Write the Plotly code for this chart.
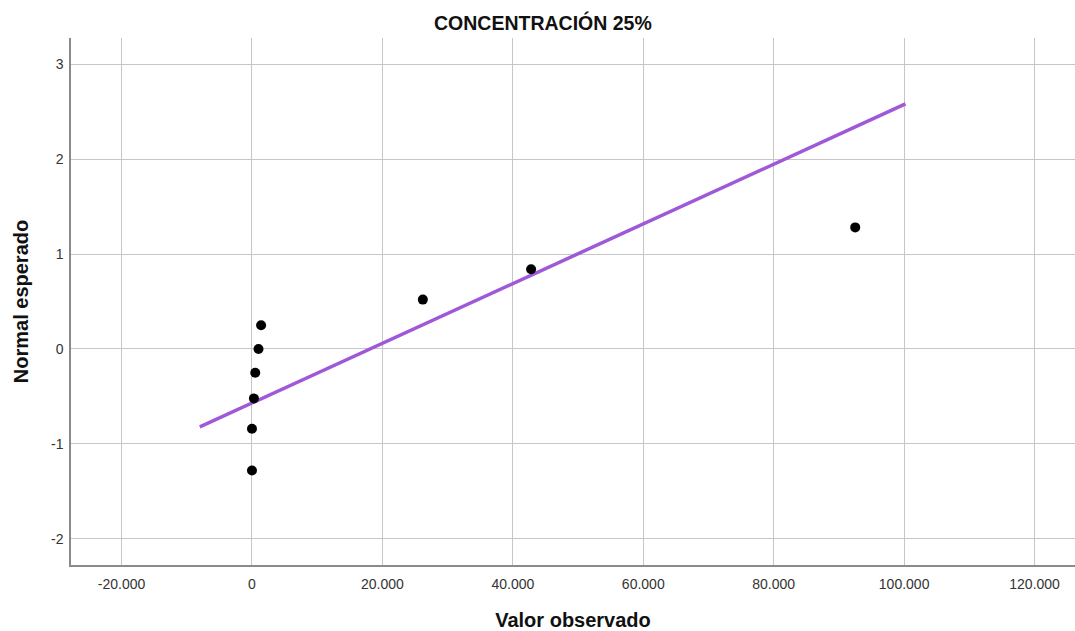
import plotly.graph_objects as go

# Observed values and their expected normal scores
observed = [0, 0, 300, 500, 1000, 1400, 26200, 42800, 92500]
expected = [-1.28, -0.84, -0.52, -0.25, 0.0, 0.25, 0.52, 0.84, 1.28]

# Reference line endpoints
line_x = [-8000, 100200]
line_y = [-0.82, 2.58]

x_ticks = [-20000, 0, 20000, 40000, 60000, 80000, 100000, 120000]
x_tick_text = ["-20.000", "0", "20.000", "40.000", "60.000", "80.000", "100.000", "120.000"]
y_ticks = [-2, -1, 0, 1, 2, 3]
y_tick_text = ["-2", "-1", "0", "1", "2", "3"]

fig = go.Figure()
fig.add_trace(go.Scatter(
    x=line_x, y=line_y, mode="lines",
    line=dict(color="#9E58D8", width=3.5),
    hoverinfo="skip", showlegend=False,
))
fig.add_trace(go.Scatter(
    x=observed, y=expected, mode="markers",
    marker=dict(color="black", size=10),
    showlegend=False,
))

font = "Liberation Sans, Arial, sans-serif"
fig.update_layout(
    width=1075, height=631,
    margin=dict(l=71, r=0, t=38, b=66),
    paper_bgcolor="white", plot_bgcolor="white",
    font=dict(family=font, color="black"),
    title=dict(text="<b>CONCENTRACIÓN 25%</b>", x=0.505, xanchor="center",
               y=0.963, yanchor="middle", font=dict(size=19.5, family=font, color="#111")),
    xaxis=dict(
        range=[-27750, 126200], tickvals=x_ticks, ticktext=x_tick_text,
        showgrid=True, gridcolor="#c6c6c6", gridwidth=1.3,
        zeroline=False, showline=True, linecolor="#8a8a8a", linewidth=1.5,
        ticks="", ticklabelstandoff=5, tickfont=dict(size=14, color="#333"),
        title=dict(text="<b>Valor observado</b>", font=dict(size=20, color="#111"), standoff=22),
    ),
    yaxis=dict(
        range=[-2.274, 3.274], tickvals=y_ticks, ticktext=y_tick_text,
        showgrid=True, gridcolor="#c6c6c6", gridwidth=1.3,
        zeroline=False, showline=True, linecolor="#8a8a8a", linewidth=1.5,
        ticks="", ticklabelstandoff=3, tickfont=dict(size=14, color="#333"),
        title=dict(text="<b>Normal esperado</b>", font=dict(size=20, color="#111"), standoff=17),
    ),
)

fig.write_html("out.html")
